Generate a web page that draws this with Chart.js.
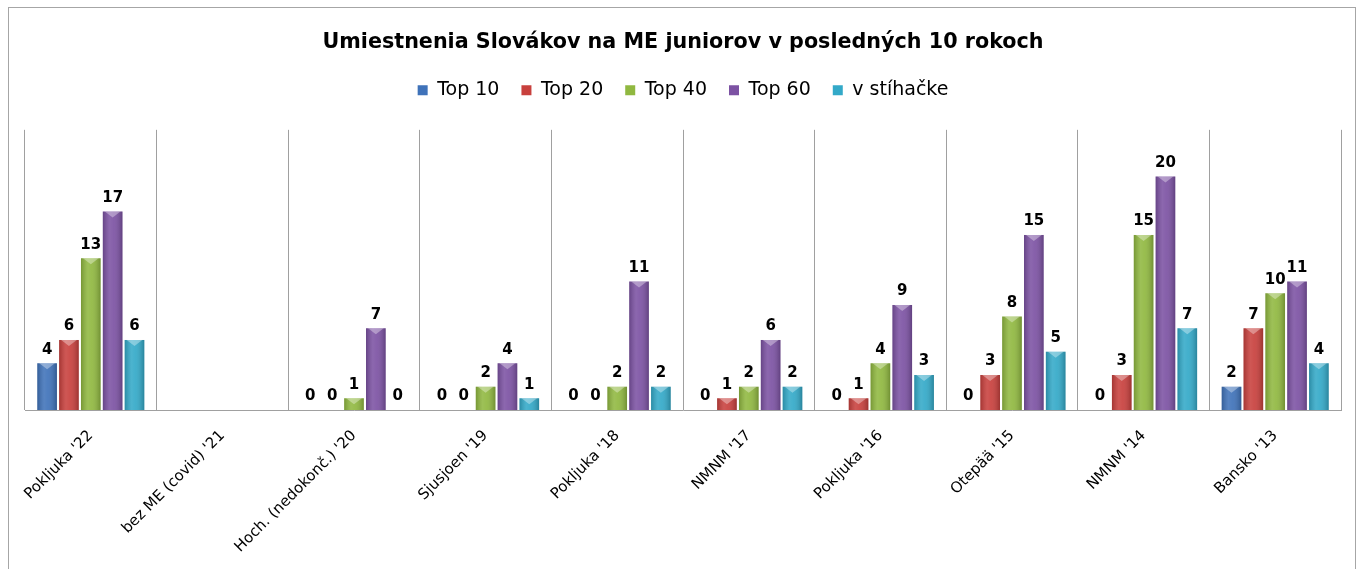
<!DOCTYPE html>
<html>
<head>
<meta charset="utf-8">
<script src="https://cdn.jsdelivr.net/npm/chart.js@4/dist/chart.umd.min.js"></script>
<style>
    html, body { margin: 0; padding: 0; background: #ffffff; overflow: hidden; }
    #frame {
        position: absolute;
        left: 8px;
        top: 7px;
        width: 1346px;
        height: 562px;
        border: 1px solid #a6a6a6;
        border-bottom: none;
    }
</style>
</head>
<body>
<div id="frame"><canvas id="placementChart"></canvas></div>
<script>
// Categories (championships) and number of Slovak juniors in each placement band
const categories = ["Pokljuka '22", "bez ME (covid) '21", "Hoch. (nedokonč.) '20", "Sjusjoen '19", "Pokljuka '18",
    "NMNM '17", "Pokljuka '16", "Otepää '15", "NMNM '14", "Bansko '13"];
const top10 = [4, null, 0, 0, 0, 0, 0, 0, 0, 2];
const top20 = [6, null, 0, 0, 0, 1, 1, 3, 3, 7];
const top40 = [13, null, 1, 2, 2, 2, 4, 8, 15, 10];
const top60 = [17, null, 7, 4, 11, 6, 9, 15, 20, 11];
const pursuit = [6, null, 0, 1, 2, 2, 3, 5, 7, 4];

const seriesNames = ['Top 10', 'Top 20', 'Top 40', 'Top 60', 'v stíhačke'];
const seriesColors = ['#3f72b9', '#c8403d', '#90b840', '#7c52a3', '#33a9c8'];

// Extra gap between the legend and the plot
const legendGap = {
    id: 'legendGap',
    beforeInit(chart) {
        const fit = chart.legend.fit;
        chart.legend.fit = function () {
            fit.call(this);
            this.height += 20;
        };
    }
};

// Shading and value labels on top of the bars
const barDecor = {
    id: 'barDecor',
    afterDatasetsDraw(chart) {
        const ctx = chart.ctx;
        chart.data.datasets.forEach((ds, di) => {
            const meta = chart.getDatasetMeta(di);
            meta.data.forEach((bar, i) => {
                const v = ds.data[i];
                if (v === null || v === undefined) return;
                const left = bar.x - bar.width / 2;
                const right = bar.x + bar.width / 2;
                const h = bar.base - bar.y;
                ctx.save();
                if (h > 0) {
                    const g = ctx.createLinearGradient(left, 0, right, 0);
                    g.addColorStop(0, 'rgba(0,0,0,0.18)');
                    g.addColorStop(0.35, 'rgba(255,255,255,0.12)');
                    g.addColorStop(0.55, 'rgba(255,255,255,0.08)');
                    g.addColorStop(1, 'rgba(0,0,0,0.22)');
                    ctx.fillStyle = g;
                    ctx.fillRect(left, bar.y, bar.width, h);
                    // light cap at the top
                    const capH = Math.min(6, h);
                    ctx.fillStyle = 'rgba(255,255,255,0.35)';
                    ctx.beginPath();
                    ctx.moveTo(left + 2, bar.y);
                    ctx.lineTo(right - 2, bar.y);
                    ctx.lineTo(bar.x, bar.y + capH);
                    ctx.closePath();
                    ctx.fill();
                }
                ctx.fillStyle = '#000000';
                ctx.font = 'bold 15px "DejaVu Sans"';
                ctx.textAlign = 'center';
                ctx.textBaseline = 'bottom';
                ctx.fillText(String(v), bar.x, bar.y - 6);
                ctx.restore();
            });
        });
    }
};

const seriesData = [top10, top20, top40, top60, pursuit];

new Chart(document.getElementById('placementChart'), {
    type: 'bar',
    data: {
        labels: categories,
        datasets: seriesData.map((d, i) => ({
            label: seriesNames[i],
            data: d,
            backgroundColor: seriesColors[i],
            borderWidth: 0,
            categoryPercentage: 0.83,
            barPercentage: 0.9,
        })),
    },
    options: {
        responsive: true,
        maintainAspectRatio: false,
        animation: false,
        layout: {
            padding: { left: 16, right: 14, top: 0, bottom: 0 },
        },
        plugins: {
            title: {
                display: true,
                text: 'Umiestnenia Slovákov na ME juniorov v posledných 10 rokoch',
                color: '#000000',
                font: { family: '"DejaVu Sans"', size: 20.7, weight: 'bold' },
                padding: { top: 22, bottom: 4 },
            },
            legend: {
                position: 'top',
                labels: {
                    color: '#000000',
                    boxWidth: 10,
                    boxHeight: 10,
                    padding: 22,
                    font: { family: '"DejaVu Sans"', size: 19 },
                },
            },
            tooltip: { enabled: false },
        },
        scales: {
            x: {
                afterFit(scale) {
                    scale.height = 160;
                },
                grid: {
                    color: '#a0a0a0',
                    drawTicks: false,
                },
                border: { color: '#a0a0a0' },
                ticks: {
                    color: '#000000',
                    minRotation: 45,
                    maxRotation: 45,
                    padding: 17,
                    font: { family: '"DejaVu Sans"', size: 15 },
                },
            },
            y: {
                display: false,
                min: 0,
                max: 24,
            },
        },
    },
    plugins: [legendGap, barDecor],
});
</script>
</body>
</html>
